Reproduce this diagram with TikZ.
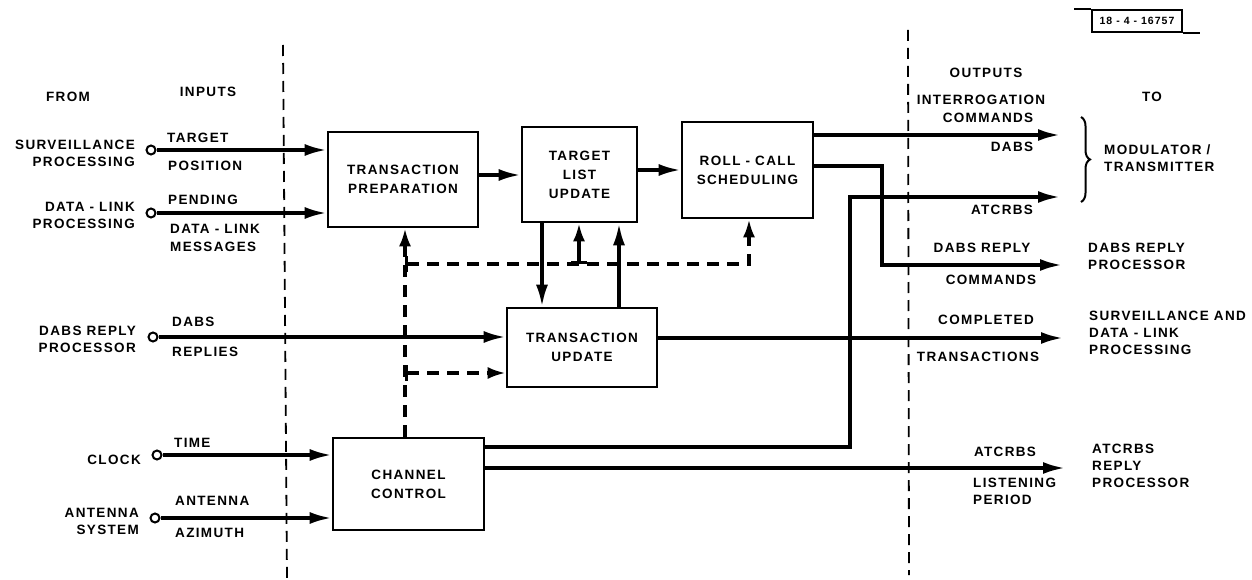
\documentclass[tikz,border=0pt]{standalone}
\usepackage{fontspec}
\newfontfamily\labfont[LetterSpace=10]{Liberation Sans}
\usetikzlibrary{arrows.meta,decorations.pathreplacing}
\tikzset{
  lab/.style={font=\labfont\bfseries\fontsize{13.5}{17}\selectfont, inner sep=0pt},
  blk/.style={draw, line width=2.6pt, rectangle, inner sep=0pt, font=\labfont\bfseries\fontsize{13.5}{19}\selectfont, align=center},
  arr/.style={line width=3.4pt, -{Latex[length=22pt,width=12pt]}},
  ctl/.style={line width=3.4pt, dash pattern=on 12pt off 8pt},
  ctlarr/.style={ctl, {Bar[width=16pt,line width=3pt]}-{Latex[length=18pt,width=12pt]}},
  sep/.style={line width=1.8pt, dash pattern=on 11pt off 7pt},
  src/.style={draw, circle, line width=2pt, minimum size=9pt, inner sep=0pt, fill=white},
}
\begin{document}
\begin{tikzpicture}[x=1pt,y=-1pt]
\useasboundingbox (0,0) rectangle (1252,580);

% separators
\draw[sep] (283,45) -- (287,580);
\draw[sep] (908,30) -- (909,575);

% drawing number
\node[draw, line width=1.8pt, lab, minimum width=90pt, minimum height=22pt, font=\labfont\bfseries\fontsize{10.5}{12}\selectfont] (num) at (1137,21) {18 - 4 - 16757};
\draw[line width=1.8pt] (1074,0 |- num.north) -- (num.north west);
\draw[line width=1.8pt] (num.south east) -- (1200,0 |- num.south);

% blocks
\node[blk, minimum width=150pt, minimum height=95pt] (tp) at (403,179.5) {TRANSACTION\\PREPARATION};
\node[blk, minimum width=115pt, minimum height=95pt] (tlu) at (579.5,174.5) {TARGET\\LIST\\UPDATE};
\node[blk, minimum width=131pt, minimum height=96pt] (rcs) at (747.5,170) {ROLL - CALL\\SCHEDULING};
\node[blk, minimum width=150pt, minimum height=79pt] (tu) at (582,347.5) {TRANSACTION\\UPDATE};
\node[blk, minimum width=151pt, minimum height=92pt] (cc) at (408.5,484) {CHANNEL\\CONTROL};

% column heads
\node[lab] (from) at (68,97) {FROM};
\node[lab] (inputs) at (208,92) {INPUTS};
\node[lab] (outputs) at (986,73) {OUTPUTS};
\node[lab] (to) at (1152,97) {TO};

% sources
\node[lab, anchor=east, align=right] (s1) at (135,153.5) {SURVEILLANCE\\PROCESSING};
\node[lab, anchor=east, align=right] (s2) at (135,215.5) {DATA - LINK\\PROCESSING};
\node[lab, anchor=east, align=right] (s3) at (136,339) {DABS REPLY\\PROCESSOR};
\node[lab, anchor=east] (s4) at (141,460) {CLOCK};
\node[lab, anchor=east, align=right] (s5) at (139,521.5) {ANTENNA\\SYSTEM};

\node[src] (c1) at (151,150) {};
\node[src] (c2) at (151,213) {};
\node[src] (c3) at (153,337) {};
\node[src] (c4) at (157,455) {};
\node[src] (c5) at (155,518) {};

% input labels
\node[lab, anchor=west] (i1a) at (167,138) {TARGET};
\node[lab, anchor=west] (i1b) at (168,166) {POSITION};
\node[lab, anchor=west] (i2a) at (168,200) {PENDING};
\node[lab, anchor=west] (i2b) at (170,229) {DATA - LINK};
\node[lab, anchor=west] (i2c) at (170,247) {MESSAGES};
\node[lab, anchor=west] (i3a) at (172,322) {DABS};
\node[lab, anchor=west] (i3b) at (172,352) {REPLIES};
\node[lab, anchor=west] (i4a) at (174,443) {TIME};
\node[lab, anchor=west] (i5a) at (175,501) {ANTENNA};
\node[lab, anchor=west] (i5b) at (175,533) {AZIMUTH};

% input connectors
\draw[arr] (c1.east) -- (c1 -| tp.west);
\draw[arr] (c2.east) -- (c2 -| tp.west);
\draw[arr] (c3.east) -- (c3 -| tu.west);
\draw[arr] (c4.east) -- (c4 -| cc.west);
\draw[arr] (c5.east) -- (c5 -| cc.west);

% internal connectors
\coordinate (h1) at (0,175);
\coordinate (h2) at (0,170);
\draw[arr] (h1 -| tp.east) -- (h1 -| tlu.west);
\draw[arr] (h2 -| tlu.east) -- (h2 -| rcs.west);
\coordinate (v1) at (542,0);
\coordinate (v2) at (619,0);
\draw[arr] (v1 |- tlu.south) -- (v1 |- tu.north);
\draw[arr] (v2 |- tu.north) -- (v2 |- tlu.south);

% control (dashed)
\coordinate (j1) at (405,264);
\coordinate (j2) at (405,373);
\coordinate (j3) at (749,264);
\coordinate (j4) at (579,264);
\draw[ctl, -{Latex[length=18pt,width=12pt]}] (j1 |- cc.north) -- (j1 |- tp.south);
\draw[ctlarr] (j1) -- (j3) -- (j3 |- rcs.south);
\draw[ctlarr, dash pattern=on 30pt off 4pt] (j4) -- (j4 |- tlu.south);
\draw[ctlarr] (j2) -- (j2 -| tu.west);

% outputs
\coordinate (o1) at (1060,135);
\coordinate (o2) at (1060,197);
\coordinate (o3) at (1062,265);
\coordinate (o4) at (1063,338);
\coordinate (o5) at (1065,468);
\coordinate (b1) at (882,166);
\coordinate (b2) at (850,447);
\draw[arr] (o1 -| rcs.east) -- (o1);
\draw[arr] (b1 -| rcs.east) -- (b1) -- (b1 |- o3) -- (o3);
\draw[arr] (b2 -| cc.east) -- (b2) -- (b2 |- o2) -- (o2);
\draw[arr] (o4 -| tu.east) -- (o4);
\draw[arr] (o5 -| cc.east) -- (o5);

% output labels
\node[lab] (l1a) at (981,100) {INTERROGATION};
\node[lab] (l1b) at (988,118) {COMMANDS};
\node[lab] (l1c) at (1012,147) {DABS};
\node[lab] (l2) at (1002,210) {ATCRBS};
\node[lab] (l3a) at (982,248) {DABS REPLY};
\node[lab] (l3b) at (991,280) {COMMANDS};
\node[lab] (l4a) at (986,320) {COMPLETED};
\node[lab] (l4b) at (978,357) {TRANSACTIONS};
\node[lab] (l5a) at (1005,452) {ATCRBS};
\node[lab, anchor=west, align=left] (l5b) at (973,491.5) {LISTENING\\PERIOD};

% destinations
\draw[line width=2pt, decorate, decoration={brace, amplitude=9pt}] (1081,117) -- (1081,202);
\node[lab, anchor=west, align=left] (d1) at (1104,158.5) {MODULATOR /\\TRANSMITTER};
\node[lab, anchor=west, align=left] (d2) at (1088,256) {DABS REPLY\\PROCESSOR};
\node[lab, anchor=west, align=left] (d3) at (1089,332.5) {SURVEILLANCE AND\\DATA - LINK\\PROCESSING};
\node[lab, anchor=west, align=left] (d4) at (1092,465.5) {ATCRBS\\REPLY\\PROCESSOR};
\end{tikzpicture}
\end{document}
